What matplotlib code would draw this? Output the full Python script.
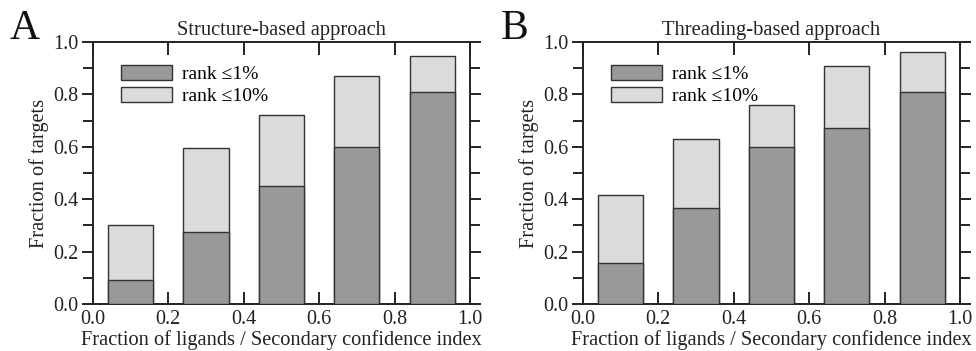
import matplotlib
matplotlib.use("Agg")
import matplotlib.pyplot as plt
from matplotlib.patches import Patch
from matplotlib.ticker import MultipleLocator

plt.rcParams['font.family'] = ['Liberation Serif', 'DejaVu Serif']

centers = [0.1, 0.3, 0.5, 0.7, 0.9]
struct_rank1 = [0.09, 0.275, 0.45, 0.60, 0.81]
struct_rank10 = [0.30, 0.595, 0.72, 0.87, 0.945]
thread_rank1 = [0.155, 0.365, 0.60, 0.67, 0.81]
thread_rank10 = [0.415, 0.63, 0.76, 0.91, 0.96]
titles = ["Structure-based approach", "Threading-based approach"]
panel_letters = ["A", "B"]
legend_labels = ["rank \u22641%", "rank \u226410%"]
xlabel = "Fraction of ligands / Secondary confidence index"
ylabel = "Fraction of targets"

dark = "#999999"
light = "#dbdbdb"
edge = "#333333"

fig = plt.figure(figsize=(9.76, 3.51), dpi=100)
W, H = 976, 351
ax_boxes = [(92.7, 42, 470, 304), (582.7, 42, 960, 304)]
letter_x = [10, 501]

for i, (r1, r10) in enumerate([(struct_rank1, struct_rank10), (thread_rank1, thread_rank10)]):
    x0, y0, x1, y1 = ax_boxes[i]
    ax = fig.add_axes([x0 / W, 1 - y1 / H, (x1 - x0) / W, (y1 - y0) / H])
    ax.bar(centers, r10, width=0.12, color=light, edgecolor=edge, linewidth=1.0, zorder=2)
    ax.bar(centers, r1, width=0.12, color=dark, edgecolor=edge, linewidth=1.0, zorder=3)
    ax.set_xlim(0, 1)
    ax.set_ylim(0, 1)
    ax.xaxis.set_major_locator(MultipleLocator(0.2))
    ax.yaxis.set_major_locator(MultipleLocator(0.2))
    ax.yaxis.set_minor_locator(MultipleLocator(0.1))
    ax.set_xticklabels([f"{v:.1f}" for v in ax.get_xticks()])
    ax.set_yticklabels([f"{v:.1f}" for v in ax.get_yticks()])
    for s in ax.spines.values():
        s.set_linewidth(1.4)
        s.set_color("#222222")
    ax.tick_params(axis='x', which='major', direction='in', length=9, width=1.4,
                   top=True, bottom=True, labelsize=14.5, pad=4, colors="#222222")
    ax.tick_params(axis='y', which='both', direction='out', length=8, width=1.4,
                   left=True, right=True, labelsize=14.5, pad=2, colors="#222222")
    ax.tick_params(axis='y', which='minor', length=7)
    ax.set_xlabel(xlabel, fontsize=14.7, labelpad=1, color="#222222")
    ax.set_ylabel(ylabel, fontsize=14.7, labelpad=3, color="#222222")
    ax.set_title(titles[i], fontsize=14.8, pad=5, color="#222222")
    handles = [Patch(facecolor=dark, edgecolor=edge, linewidth=1.0),
               Patch(facecolor=light, edgecolor=edge, linewidth=1.0)]
    ax.legend(handles, legend_labels, loc='upper left', bbox_to_anchor=(0.055, 0.94),
              frameon=False, fontsize=14, handlelength=2.6, handleheight=0.75,
              labelspacing=0.2, handletextpad=0.55, borderaxespad=0)
    fig.text(letter_x[i] / W, 1 - 29 / H, panel_letters[i], fontsize=30,
             va='center', ha='left', color="#111111")

fig.savefig("out.png", dpi=100)
